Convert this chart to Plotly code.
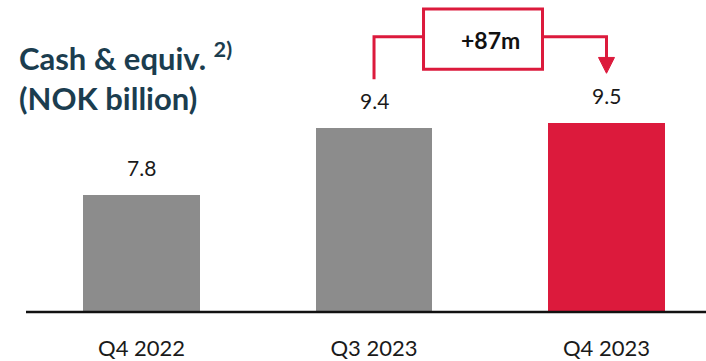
import plotly.graph_objects as go

categories = ["Q4 2022", "Q3 2023", "Q4 2023"]
values = [7.8, 9.4, 9.5]
value_labels = ["7.8", "9.4", "9.5"]
bar_colors = ["#8c8c8c", "#8c8c8c", "#dc1a3c"]
change_label = "+87m"

RED = "#dc1a3c"
H_PLOT = 315.0
PX_PER_UNIT = 42.3
Y0 = 5.0

def py(p):
    return (H_PLOT - p) / H_PLOT

fig = go.Figure()
fig.add_trace(go.Bar(x=list(range(3)), y=[v - Y0 for v in values], base=Y0,
                     marker=dict(color=bar_colors, line=dict(width=0)),
                     width=0.503, hoverinfo="skip"))

annotations = []
for i, (v, t) in enumerate(zip(values, value_labels)):
    annotations.append(dict(x=i, y=v, xref="x", yref="y", text=t, showarrow=False,
                            yanchor="bottom", yshift=13,
                            font=dict(family="Lato, Open Sans, sans-serif", size=21, color="#1a1a1a")))

annotations.append(dict(x=0, xshift=-9, y=py(77), xref="paper", yref="paper",
                        text="<b>Cash & equiv. <sup>2)</sup><br>(NOK billion)</b>",
                        showarrow=False, xanchor="left", yanchor="middle", align="left",
                        font=dict(family="Lato, Open Sans, sans-serif", size=31, color="#1b3d4f")))

annotations.append(dict(x=1.5, y=py(40), xref="x", yref="paper", text="<b>" + change_label + "</b>",
                        showarrow=False, xanchor="center", yanchor="middle",
                        font=dict(family="Lato, Open Sans, sans-serif", size=23, color="#111111")))

shapes = []
lw = 3
# box
shapes.append(dict(type="rect", xref="x", yref="paper", x0=1.2129, x1=1.7247, y0=py(70), y1=py(9),
                   line=dict(color=RED, width=lw), fillcolor="rgba(0,0,0,0)"))
# left bracket
shapes.append(dict(type="path", xref="x", yref="paper",
                   path=f"M 1,{py(80)} L 1,{py(37)} L 1.2129,{py(37)}",
                   line=dict(color=RED, width=lw)))
# right bracket
shapes.append(dict(type="path", xref="x", yref="paper",
                   path=f"M 1.7247,{py(37)} L 2,{py(37)} L 2,{py(60)}",
                   line=dict(color=RED, width=lw)))
# arrowhead
shapes.append(dict(type="path", xref="x", yref="paper",
                   path=f"M 1.9656,{py(58)} L 2.0344,{py(58)} L 2,{py(74)} Z",
                   fillcolor=RED, line=dict(color=RED, width=1)))

fig.update_layout(
    width=706, height=361,
    margin=dict(l=26, r=0, t=0, b=361 - int(H_PLOT)),
    paper_bgcolor="white", plot_bgcolor="white",
    showlegend=False,
    bargap=0,
    xaxis=dict(range=[-0.497, 2.428], tickmode="array", tickvals=list(range(3)), ticktext=categories,
               showgrid=False, zeroline=False, showline=False, ticks="",
               tickfont=dict(family="Lato, Open Sans, sans-serif", size=22, color="#1a1a1a")),
    yaxis=dict(range=[Y0, Y0 + H_PLOT / PX_PER_UNIT], visible=False, showgrid=False, zeroline=False),
    annotations=annotations,
    shapes=shapes + [dict(type="line", xref="paper", yref="paper", x0=0, x1=1, y0=0, y1=0,
                          line=dict(color="#111111", width=2.5))],
)
fig.update_xaxes(ticklabelstandoff=21)
fig.write_html("out.html")
